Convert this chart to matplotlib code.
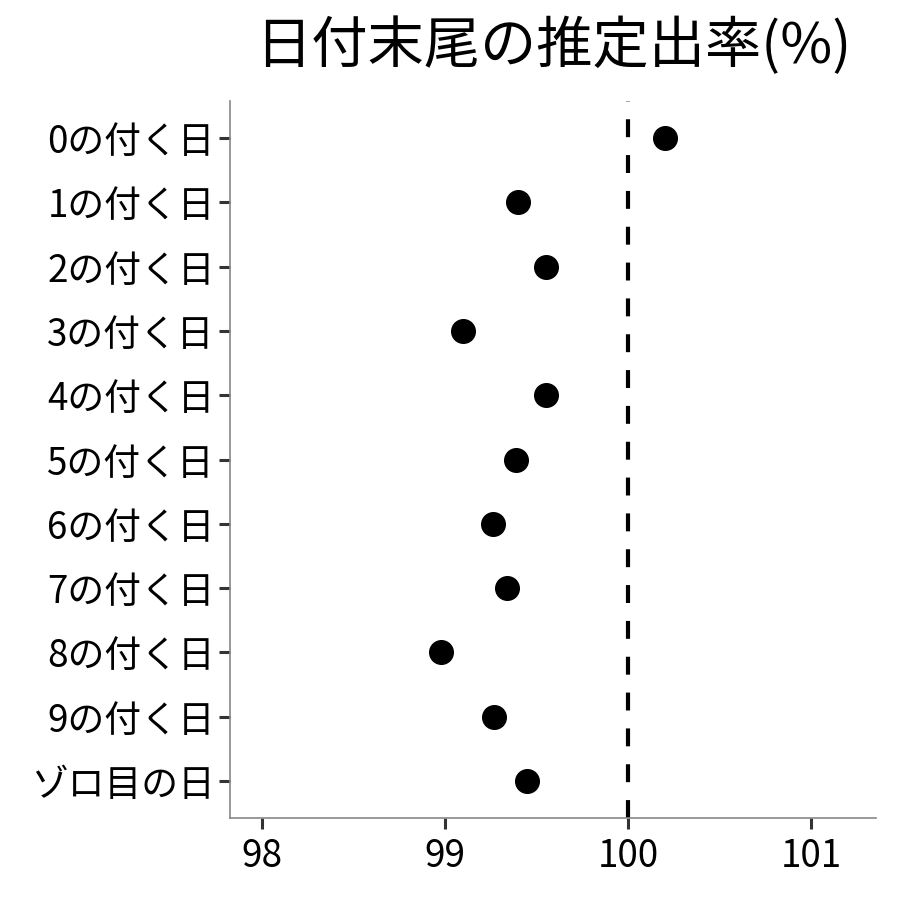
import numpy as np
import matplotlib
matplotlib.use('Agg')
import matplotlib.pyplot as plt

plt.rcParams['font.family'] = ['Noto Sans CJK JP', 'DejaVu Sans']

labels = ['0の付く日', '1の付く日', '2の付く日', '3の付く日', '4の付く日',
          '5の付く日', '6の付く日', '7の付く日', '8の付く日', '9の付く日', 'ゾロ目の日']
rates = [100.20, 99.40, 99.55, 99.10, 99.55, 99.39, 99.26, 99.34, 98.98, 99.27, 99.45]
xticks = [98, 99, 100, 101]

fig = plt.figure(figsize=(9, 9), dpi=100)
ax = fig.add_axes([230/900, 1 - 818/900, (876 - 230)/900, (818 - 101)/900])

ypos = np.arange(len(labels))
ax.axvline(100, color='black', lw=3, dashes=(4.3, 4.3), zorder=1)
ax.plot(rates, ypos, 'o', color='black', markersize=17, zorder=2)

ax.set_xlim(97.825, 101.355)
ax.set_ylim(len(labels) - 1 + 0.575, -0.575)
ax.set_yticks(ypos)
ax.set_yticklabels(labels)
ax.set_xticks(xticks)
ax.set_xticklabels([str(t) for t in xticks])

for s in ['top', 'right']:
    ax.spines[s].set_visible(False)
for s in ['left', 'bottom']:
    ax.spines[s].set_color('#888888')
    ax.spines[s].set_linewidth(1.2)
ax.tick_params(length=8, width=2.2, color='#333333', labelsize=26.5,
               labelcolor='black')
ax.tick_params(axis='x', pad=6)
ax.tick_params(axis='y', pad=3)

fig.text(553/900, 1 - 47/900, '日付末尾の推定出率(%)', ha='center', va='center', fontsize=40.5)

fig.savefig('out.png', dpi=100)
